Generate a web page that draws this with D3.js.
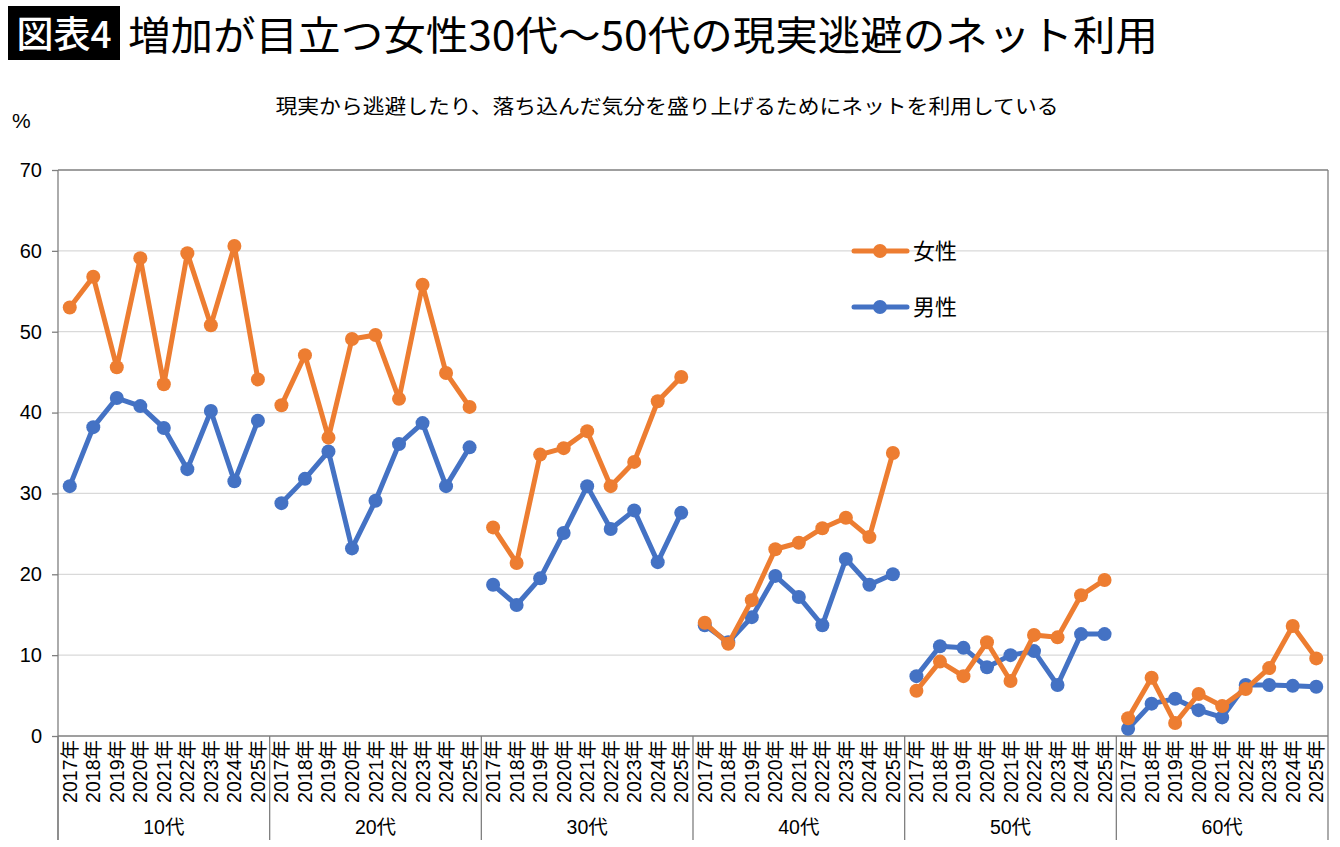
<!DOCTYPE html>
<html><head><meta charset="utf-8">
<script src="https://cdn.jsdelivr.net/npm/d3@7"></script>
<style>
html,body{margin:0;padding:0;background:#fff;}
svg{display:block;font-family:"Liberation Sans","Noto Sans CJK JP",sans-serif;}
</style></head>
<body>
<svg id="chart" width="1340" height="847"></svg>
<script>
const groups = ["10代","20代","30代","40代","50代","60代"];
const years = ["2017年","2018年","2019年","2020年","2021年","2022年","2023年","2024年","2025年"];
const yTicks = [0,10,20,30,40,50,60,70];
const female = [
  [53.0,56.8,45.6,59.1,43.5,59.7,50.8,60.6,44.1],
  [40.9,47.1,36.9,49.1,49.6,41.7,55.8,44.9,40.7],
  [25.8,21.4,34.8,35.6,37.7,30.9,33.9,41.4,44.4],
  [14.0,11.4,16.8,23.1,23.9,25.7,27.0,24.6,35.0],
  [5.6,9.2,7.4,11.6,6.8,12.5,12.2,17.4,19.3],
  [2.2,7.2,1.6,5.2,3.7,5.8,8.4,13.6,9.6]
];
const male = [
  [30.9,38.2,41.8,40.8,38.1,33.0,40.2,31.5,39.0],
  [28.8,31.8,35.2,23.2,29.1,36.1,38.7,30.9,35.7],
  [18.7,16.2,19.5,25.1,30.9,25.6,27.9,21.5,27.6],
  [13.7,11.6,14.7,19.8,17.2,13.7,21.9,18.7,20.0],
  [7.4,11.1,10.9,8.5,10.0,10.5,6.3,12.6,12.6],
  [0.9,4.0,4.6,3.2,2.3,6.3,6.3,6.2,6.1]
];
const seriesNames = ["女性","男性"];
const colors = {"女性":"#ED7D31","男性":"#4472C4"};
const titleTag = "図表4";
const title = "増加が目立つ女性30代～50代の現実逃避のネット利用";
const subtitle = "現実から逃避したり、落ち込んだ気分を盛り上げるためにネットを利用している";

const svg = d3.select("#chart");
const L = 58, R = 1328, T = 170, B = 736;

// title
svg.append("rect").attr("x",8).attr("y",6).attr("width",112).attr("height",54).attr("fill","#000");
svg.append("text").attr("x",64).attr("y",48).attr("text-anchor","middle").attr("fill","#fff")
  .attr("font-size",37).attr("font-weight",500).attr("font-family","'Noto Sans CJK JP',sans-serif").text(titleTag);
svg.append("text").attr("x",128).attr("y",50).attr("fill","#000")
  .attr("font-size",40).attr("font-weight",400).attr("font-family","'Noto Sans CJK JP',sans-serif")
  .attr("textLength",1030).attr("lengthAdjust","spacingAndGlyphs").text(title);
svg.append("text").attr("x",667).attr("y",114).attr("text-anchor","middle").attr("fill","#000")
  .attr("font-size",20).attr("font-family","'Noto Sans CJK JP',sans-serif")
  .attr("textLength",783).attr("lengthAdjust","spacingAndGlyphs").text(subtitle);
svg.append("text").attr("x",12).attr("y",128).attr("fill","#000").attr("font-size",21).text("%");

const cats = [];
groups.forEach(g => years.forEach(y => cats.push(g + "|" + y)));
const x = d3.scaleBand().domain(cats).range([L, R]).paddingInner(0).paddingOuter(0);
const y = d3.scaleLinear().domain([0,70]).range([B, T]);

// gridlines
svg.append("g").selectAll("line").data(yTicks.filter(t => t > 0 && t < 70)).join("line")
  .attr("x1",L).attr("x2",R).attr("y1",d=>y(d)).attr("y2",d=>y(d))
  .attr("stroke","#d9d9d9").attr("stroke-width",1.3);
// border top/right
svg.append("line").attr("x1",L).attr("x2",R).attr("y1",y(70)).attr("y2",y(70)).attr("stroke","#7f7f7f").attr("stroke-width",1.3);
svg.append("line").attr("x1",R).attr("x2",R).attr("y1",T).attr("y2",840).attr("stroke","#7f7f7f").attr("stroke-width",1.3);

// y axis
const yAxis = d3.axisLeft(y).tickValues(yTicks).tickSize(6).tickPadding(10);
const yg = svg.append("g").attr("transform",`translate(${L},0)`).call(yAxis);
yg.select(".domain").remove();
yg.selectAll(".tick line").attr("stroke","#7f7f7f").attr("stroke-width",1.3);
yg.selectAll(".tick text").attr("font-size",20).attr("fill","#000").attr("font-family","'Liberation Sans',sans-serif");
svg.append("line").attr("x1",L).attr("x2",L).attr("y1",T).attr("y2",840).attr("stroke","#7f7f7f").attr("stroke-width",1.3);

// x axis
svg.append("line").attr("x1",L).attr("x2",R).attr("y1",B).attr("y2",B).attr("stroke","#7f7f7f").attr("stroke-width",1.3);
const xg = svg.append("g");
xg.selectAll("text").data(cats).join("text")
  .attr("transform", d => `translate(${x(d)+x.bandwidth()/2},${B+4}) rotate(-90)`)
  .attr("text-anchor","end").attr("dy","0.36em")
  .attr("font-size",19.5).attr("fill","#000")
  .text(d => d.split("|")[1]);
// group separators & labels
groups.forEach((g, gi) => {
  const x0 = x(g + "|" + years[0]);
  const x1 = x(g + "|" + years[years.length-1]) + x.bandwidth();
  svg.append("line").attr("x1",x0).attr("x2",x0).attr("y1",B).attr("y2",840).attr("stroke","#7f7f7f").attr("stroke-width",1.3);
  svg.append("text").attr("x",(x0+x1)/2).attr("y",834).attr("text-anchor","middle")
    .attr("font-size",19.5).attr("fill","#000").text(g);
});

// lines
const line = d3.line().x(d => x(d.c) + x.bandwidth()/2).y(d => y(d.v));
function drawSeries(name, data) {
  const gS = svg.append("g");
  data.forEach((vals, gi) => {
    const pts = vals.map((v, i) => ({c: groups[gi] + "|" + years[i], v}));
    gS.append("path").datum(pts).attr("d", line).attr("fill","none")
      .attr("stroke", colors[name]).attr("stroke-width",5).attr("stroke-linejoin","round");
    gS.selectAll(null).data(pts).join("circle")
      .attr("cx", d => x(d.c) + x.bandwidth()/2).attr("cy", d => y(d.v)).attr("r",7)
      .attr("fill", colors[name]);
  });
}
drawSeries("男性", male);
drawSeries("女性", female);

// legend
seriesNames.forEach((n, i) => {
  const ly = 251 + i*56;
  svg.append("line").attr("x1",854).attr("x2",907).attr("y1",ly).attr("y2",ly)
    .attr("stroke",colors[n]).attr("stroke-width",5).attr("stroke-linecap","round");
  svg.append("circle").attr("cx",880).attr("cy",ly).attr("r",7).attr("fill",colors[n]);
  svg.append("text").attr("x",913).attr("y",ly).attr("dy","0.36em").attr("font-size",22)
    .attr("font-family","'Noto Sans CJK JP',sans-serif").attr("fill","#000").text(n);
});
</script>
</body></html>
